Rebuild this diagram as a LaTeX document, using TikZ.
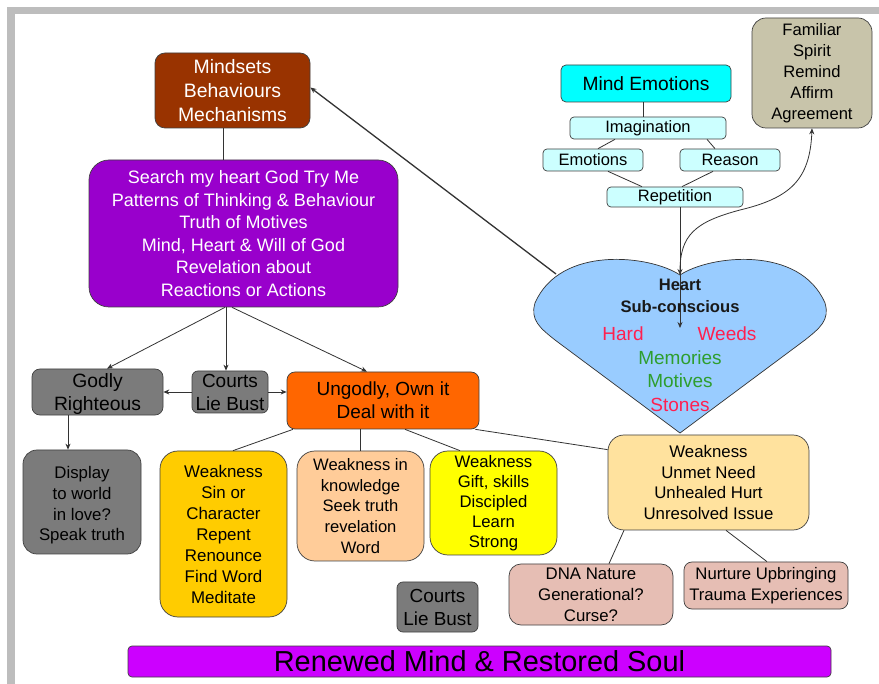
\documentclass[tikz,border=0pt]{standalone}
\usepackage{fontspec}
\setmainfont{Liberation Sans}
\usetikzlibrary{calc,arrows.meta}
\definecolor{cbrown}{HTML}{993300}
\definecolor{cpurple}{HTML}{9900CC}
\definecolor{ccyan}{HTML}{00FFFF}
\definecolor{clcyan}{HTML}{CCFFFF}
\definecolor{cfam}{HTML}{C8C4AA}
\definecolor{cheart}{HTML}{99CCFF}
\definecolor{cgray}{HTML}{7B7B7B}
\definecolor{corange}{HTML}{FF6600}
\definecolor{cgold}{HTML}{FFCC00}
\definecolor{cpeach}{HTML}{FFCC99}
\definecolor{cyell}{HTML}{FFFF00}
\definecolor{cunmet}{HTML}{FFE29E}
\definecolor{cpink}{HTML}{E6BEB4}
\definecolor{cbar}{HTML}{CC00FF}
\definecolor{cframe}{HTML}{BDBDBD}
\definecolor{cred}{HTML}{FF2050}
\definecolor{cgreen}{HTML}{2E9E2E}
\newcommand{\myfs}[2]{\fontsize{#1}{#2}\selectfont}
\begin{document}
\begin{tikzpicture}[x=1pt,y=-1pt,
  box/.style={draw=black!75, line width=0.7pt, rounded corners=#1, inner sep=0pt, align=center, text=black},
  box/.default=8pt,
  ln/.style={draw=black!80, line width=0.8pt},
  arr/.style={ln, -{Stealth[length=6pt,width=5pt]}},
  darr/.style={ln, {Stealth[length=6pt,width=5pt]}-{Stealth[length=6pt,width=5pt]}}]
\useasboundingbox (0,0) rectangle (879,684);
\fill[white] (0,0) rectangle (879,684);
% frame
\fill[cframe] (7,7) rectangle (879,14);
\fill[cframe] (7,7) rectangle (15,684);

% heart
\draw[fill=cheart, draw=black!80, line width=0.7pt]
  (680,275) .. controls (650,255) and (560,245) .. (535,303)
  .. controls (530,320) and (540,328) .. (555,340) -- (680,433) -- (805,340)
  .. controls (820,328) and (830,320) .. (825,303)
  .. controls (800,245) and (710,255) .. (680,275) -- cycle;
\coordinate (notch) at (680,275);
\coordinate (heartin) at (680,328);
\coordinate (heartleft) at (556,274);

% top nodes
\node[box=10pt, fill=cbrown, text=white, minimum width=155, minimum height=75, font=\myfs{19.4}{24}] (mind) at (232.5,90.5)
  {Mindsets\\Behaviours\\Mechanisms};
\node[box=20pt, fill=cpurple, text=white, minimum width=309, minimum height=147, font=\myfs{18}{22.6}] (search) at (243.5,233.5)
  {Search my heart God Try Me\\Patterns of Thinking \& Behaviour\\Truth of Motives\\Mind, Heart \& Will of God\\Revelation about\\Reactions or Actions};

\node[box=5pt, fill=ccyan, minimum width=170, minimum height=37, font=\myfs{19.2}{23}] (me) at (646,83.5)
  {Mind Emotions};
\node[box=4pt, fill=clcyan, minimum width=156, minimum height=22, font=\myfs{16.5}{20}] (imag) at (648,128)
  {Imagination};
\node[box=4pt, fill=clcyan, minimum width=100, minimum height=22, font=\myfs{16.5}{20}] (emo) at (593,160)
  {Emotions};
\node[box=4pt, fill=clcyan, minimum width=100, minimum height=22, font=\myfs{16.5}{20}] (reason) at (730,160)
  {Reason};
\node[box=4pt, fill=clcyan, minimum width=136, minimum height=20, font=\myfs{16.5}{20}] (rep) at (675,197)
  {Repetition};
\node[box=14pt, fill=cfam, minimum width=120, minimum height=110, font=\myfs{16.6}{21}] (fam) at (812,73)
  {Familiar\\Spirit\\Remind\\Affirm\\Agreement};

% middle row
\node[box=8pt, fill=cgray, minimum width=131, minimum height=42, font=\myfs{19.3}{23}, text height=42] (godly) at (97.5,392)
  {Godly\\Righteous};
\node[box=6pt, fill=cgray, minimum width=76, minimum height=42, font=\myfs{19}{23}] (courts) at (230,392)
  {Courts\\Lie Bust};
\node[box=8pt, fill=corange, minimum width=192, minimum height=57, font=\myfs{19}{23}] (ungodly) at (383,400.5)
  {Ungodly, Own it\\Deal with it};

% lower row
\node[box=14pt, fill=cgray, minimum width=118, minimum height=104, font=\myfs{16.8}{20.7}, text height=81] (display) at (82,502)
  {Display\\to world\\in love?\\Speak truth};
\node[box=18pt, fill=cgold, minimum width=127, minimum height=166, font=\myfs{16.9}{21}] (sin) at (223.5,534)
  {Weakness\\Sin or\\Character\\Repent\\Renounce\\Find Word\\Meditate};
\node[box=18pt, fill=cpeach, minimum width=127, minimum height=110, font=\myfs{16.6}{20.7}] (know) at (360.5,506)
  {Weakness in\\knowledge\\Seek truth\\revelation\\Word};
\node[box=18pt, fill=cyell, minimum width=127, minimum height=104, font=\myfs{16.7}{20}] (gift) at (493.5,503)
  {Weakness\\Gift, skills\\Discipled\\Learn\\Strong};
\node[box=16pt, fill=cunmet, minimum width=201, minimum height=95, font=\myfs{16.8}{20.7}] (unmet) at (708.5,482.5)
  {Weakness\\Unmet Need\\Unhealed Hurt\\Unresolved Issue};
\node[box=12pt, fill=cpink, minimum width=164, minimum height=61, font=\myfs{16.8}{21}] (dna) at (591,594.5)
  {DNA Nature\\Generational?\\Curse?};
\node[box=8pt, fill=cpink, minimum width=164, minimum height=47, font=\myfs{16.7}{21}] (nurture) at (766,585.5)
  {Nurture Upbringing\\Trauma Experiences};
\node[box=6pt, fill=cgray, minimum width=81, minimum height=50, font=\myfs{18.9}{23}] (courts2) at (437.5,607)
  {Courts\\Lie Bust};
\node[box=4pt, fill=cbar, minimum width=703, minimum height=31, font=\myfs{28.9}{32}] (bar) at (479.5,661.5)
  {Renewed Mind \& Restored Soul};

% connectors
\draw[ln] ($(mind.south)+(-9.5,0)$) -- ($(search.north)+(-20.5,0)$);
\draw[ln] ($(me.south)+(-3,0)$) -- ($(imag.north)+(-5,0)$);
\draw[ln] ($(imag.south)+(-33,0)$) -- ($(emo.north)+(5,0)$);
\draw[ln] ($(imag.south)+(59,0)$) -- ($(reason.north)+(-15,0)$);
\draw[ln] ($(emo.south)+(15,0)$) -- ($(rep.north)+(-33,0)$);
\draw[ln] ($(reason.south)+(-17,0)$) -- ($(rep.north)+(7,0)$);
\draw[arr] ($(rep.south)+(5,0)$) -- (heartin);
\draw[darr] (notch) .. controls (680,235) and (695,222) .. (740,210)
  .. controls (790,198) and (810,180) .. (fam.south);
\draw[arr, line width=1.3pt] (heartleft) -- ($(mind.east)+(0,-3)$);

\draw[arr] ($(search.south)+(-18.5,0)$) -- ($(godly.north)+(9.5,0)$);
\draw[arr] ($(search.south)+(-17.5,0)$) -- ($(courts.north)+(-4,0)$);
\draw[arr] ($(search.south)+(-11.5,0)$) -- ($(ungodly.north)+(-16,0)$);
\draw[arr] (courts.west) -- (godly.east);
\draw[arr] (courts.east) -- (courts.east -| ungodly.west);
\draw[arr] ($(godly.south)+(-29.5,0)$) -- ($(display.north)+(-14,0)$);

\draw[ln] ($(ungodly.south)+(-90,0)$) -- ($(sin.north)+(9.5,0)$);
\draw[ln] ($(ungodly.south)+(-23,0)$) -- ($(know.north)+(-0.5,0)$);
\draw[ln] ($(ungodly.south)+(22,0)$) -- ($(gift.north)+(-33.5,0)$);
\draw[ln] ($(ungodly.south east)+(-4,0)$) -- ($(unmet.north west)+(0,15)$);
\draw[ln] ($(unmet.south)+(-84.5,0)$) -- ($(dna.north)+(18,0)$);
\draw[ln] ($(unmet.south)+(17.5,0)$) -- ($(nurture.north)+(1,0)$);

% heart text
\node[align=center, inner sep=0pt, text=black!90, font=\myfs{16.6}{22}\bfseries] (hlbl) at (680,296)
  {Heart\\Sub-conscious};
\node[inner sep=0pt, text=cred, font=\myfs{19}{23}] (hard) at (623,334) {Hard};
\node[inner sep=0pt, text=cred, font=\myfs{19}{23}] (weeds) at (727,334) {Weeds};
\node[inner sep=0pt, text=cgreen, font=\myfs{19}{23}] (memories) at (680,358) {Memories};
\node[inner sep=0pt, text=cgreen, font=\myfs{19}{23}] (motives) at (680,381) {Motives};
\node[inner sep=0pt, text=cred, font=\myfs{19}{23}] (stones) at (680,405) {Stones};
\end{tikzpicture}
\end{document}
